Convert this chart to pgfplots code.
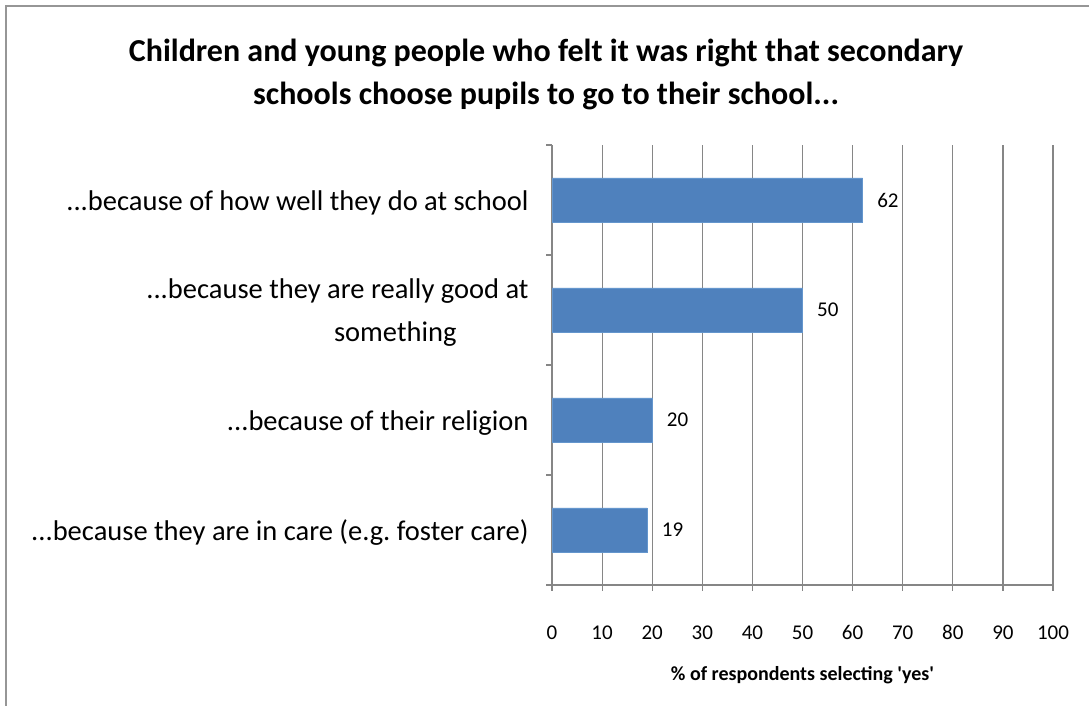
\documentclass[border=0pt]{standalone}
\usepackage{pgfplots}
\pgfplotsset{compat=1.18}
\usepackage{fontspec}
\setmainfont{Carlito}
\newcommand{\ddd}{...}
\frenchspacing
\definecolor{barblue}{RGB}{79,129,189}
\definecolor{bardark}{RGB}{100,150,205}
\definecolor{gridgray}{RGB}{134,134,134}
\definecolor{framegray}{RGB}{150,150,150}
\begin{document}
\begin{tikzpicture}[x=1bp,y=1bp]
\useasboundingbox (0,0) rectangle (1089,706);
\draw[framegray,line width=2bp] (6,-5) -- (6,700) -- (1095,700);
\node[align=center,font=\fontsize{32bp}{43bp}\selectfont\bfseries] at (546,632)
  {Children and young people who felt it was right that secondary\\schools choose pupils to go to their school\ddd};
\begin{axis}[
  at={(552bp,121bp)}, anchor=south west,
  width=501bp, height=440bp, scale only axis,
  xmin=0, xmax=100, ymin=-0.5, ymax=3.5,
  xtick={0,10,20,30,40,50,60,70,80,90,100},
  ytick={-0.5,0.5,1.5,2.5,3.5},
  yticklabels={},
  extra y ticks={0,1,2,3},
  extra y tick labels={{\ddd because they are in care (e.g.\ foster care)},{\ddd because of their religion},{\ddd because they are really good at\\something\hspace*{72bp}},{\ddd because of how well they do at school}},
  extra y tick style={major tick length=0pt, grid=none, yticklabel style={align=right}},
  yticklabel style={font=\fontsize{28.5bp}{43bp}\selectfont, xshift=-20bp, yshift=-3bp},
  xticklabel style={font=\fontsize{21bp}{24bp}\selectfont, yshift=-31bp},
  /pgf/number format/assume math mode=true,
  xmajorgrids, major grid style={gridgray, line width=1.2bp},
  axis line style={gridgray, line width=1.5bp},
  axis x line*=bottom, axis y line*=left,
  major tick length=6bp,
  tick style={gridgray, line width=1.2bp},
  xtick pos=bottom, ytick pos=left,
  tick align=outside,
  xbar, bar width=44bp,
  xlabel={\% of respondents selecting \textquotesingle yes\textquotesingle},
  xlabel style={font=\fontsize{20bp}{24bp}\selectfont\bfseries, yshift=-20bp},
  nodes near coords,
  nodes near coords style={font=\fontsize{21bp}{24bp}\selectfont, black, xshift=11bp},
  clip=false,
]
\addplot[fill=barblue, draw=bardark, line width=0.8bp] coordinates {(19,0) (20,1) (50,2) (62,3)};
\end{axis}
\end{tikzpicture}
\end{document}
